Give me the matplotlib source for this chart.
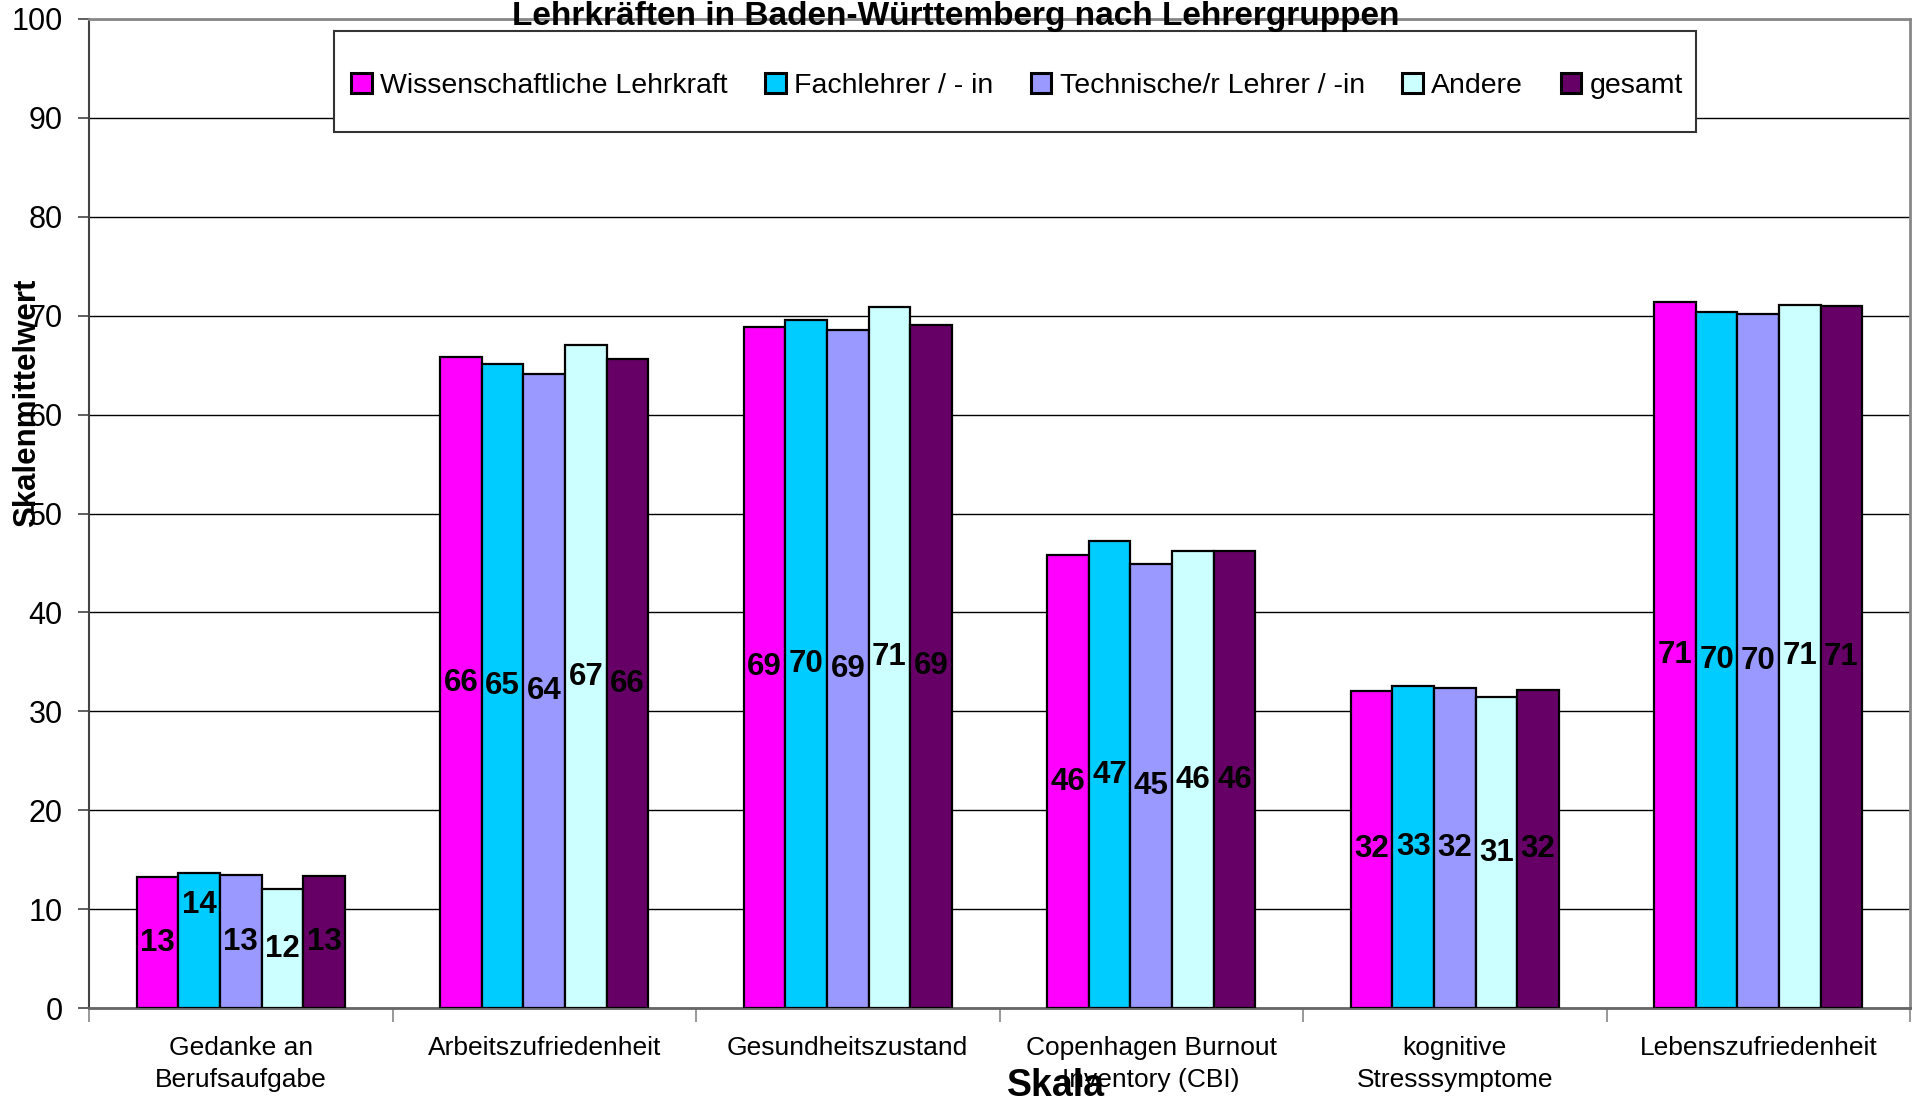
import matplotlib.pyplot as plt
import numpy as np
from matplotlib.patches import Rectangle

plt.rcParams['font.family'] = ['Liberation Sans', 'DejaVu Sans']

categories = [
    "Gedanke an\nBerufsaufgabe",
    "Arbeitszufriedenheit",
    "Gesundheitszustand",
    "Copenhagen Burnout\nInventory (CBI)",
    "kognitive\nStresssymptome",
    "Lebenszufriedenheit",
]
series_names = [
    "Wissenschaftliche Lehrkraft",
    "Fachlehrer / - in",
    "Technische/r Lehrer / -in",
    "Andere",
    "gesamt",
]
wissenschaftlich = [13.2, 65.8, 68.9, 45.8, 32.1, 71.4]
fachlehrer = [13.7, 65.1, 69.6, 47.2, 32.6, 70.4]
technisch = [13.4, 64.1, 68.6, 44.9, 32.4, 70.2]
andere = [12.0, 67.0, 70.9, 46.2, 31.4, 71.1]
gesamt = [13.3, 65.6, 69.1, 46.2, 32.2, 71.0]
values = [wissenschaftlich, fachlehrer, technisch, andere, gesamt]

colors = ["#FF00FF", "#00CCFF", "#9999FF", "#CCFFFF", "#660066"]

# Excel pushed one label upward to avoid overlap
label_shift = {(1, 0): 3.6}

W, H = 1914, 1102
fig = plt.figure(figsize=(W / 100, H / 100), dpi=100)
ax = fig.add_axes([89 / W, 1 - 1008 / H, (1910 - 89) / W, (1008 - 19) / H])

x = np.arange(len(categories))
width = 0.137
for i, (name, vals, col) in enumerate(zip(series_names, values, colors)):
    pos = x + (i - 2) * width
    ax.bar(pos, vals, width, color=col, edgecolor="black", linewidth=1.6, label=name, zorder=3)
    for j, v in enumerate(vals):
        y = v / 2 + label_shift.get((i, j), 0)
        ax.text(pos[j], y, f"{v:.0f}", ha="center", va="center",
                fontsize=22.5, fontweight="bold", color="black", zorder=4)

ax.set_xlim(-0.5, len(categories) - 0.5)
ax.set_ylim(0, 100)
ax.set_yticks(np.arange(0, 101, 10))
ax.tick_params(axis="y", labelsize=22, length=8, width=1.2, color="#444444", pad=11)
ax.yaxis.grid(True, color="black", linewidth=1.0, zorder=0)
ax.set_axisbelow(True)

ax.set_xticks(x)
ax.set_xticklabels(categories, fontsize=19, linespacing=1.45)
ax.tick_params(axis="x", length=0, pad=20)
ax.set_xticks(np.arange(-0.5, len(categories), 1), minor=True)
ax.tick_params(axis="x", which="minor", length=10, width=1.2, color="#888888")

for side in ["top", "right"]:
    ax.spines[side].set_color("#888888")
    ax.spines[side].set_linewidth(2)
ax.spines["left"].set_color("#444444")
ax.spines["left"].set_linewidth(1.5)
ax.spines["bottom"].set_color("#666666")
ax.spines["bottom"].set_linewidth(2)

fig.text(27 / W, 1 - 403 / H, "Skalenmittelwert", rotation=90, ha="center", va="center",
         fontsize=22.5, fontweight="bold")
fig.text(1056 / W, 1 - 1086 / H, "Skala", ha="center", va="center",
         fontsize=27, fontweight="bold")
fig.text(956 / W, 1 - 16 / H, "Lehrkräften in Baden-Württemberg nach Lehrergruppen",
         ha="center", va="center", fontsize=24, fontweight="bold")

# legend frame drawn separately so the padding can differ per side
ax.add_patch(Rectangle((334 / W, 1 - 132 / H), (1696 - 334) / W, (132 - 31) / H,
                       transform=fig.transFigure, facecolor="white", clip_on=False,
                       edgecolor="#333333", linewidth=1.5, zorder=5))
leg = ax.legend(loc="center", ncol=5, fontsize=20.5,
                bbox_to_anchor=(351 / W, 1 - 104 / H, (1683 - 351) / W, 36 / H),
                bbox_transform=fig.transFigure, mode="expand", borderpad=0, borderaxespad=0,
                frameon=False, handlelength=0.72, handleheight=0.72, handletextpad=0.3,
                columnspacing=0.8)
leg.set_zorder(6)
for h in leg.legend_handles:
    h.set_linewidth(2.2)

fig.savefig("out.png", dpi=100)
